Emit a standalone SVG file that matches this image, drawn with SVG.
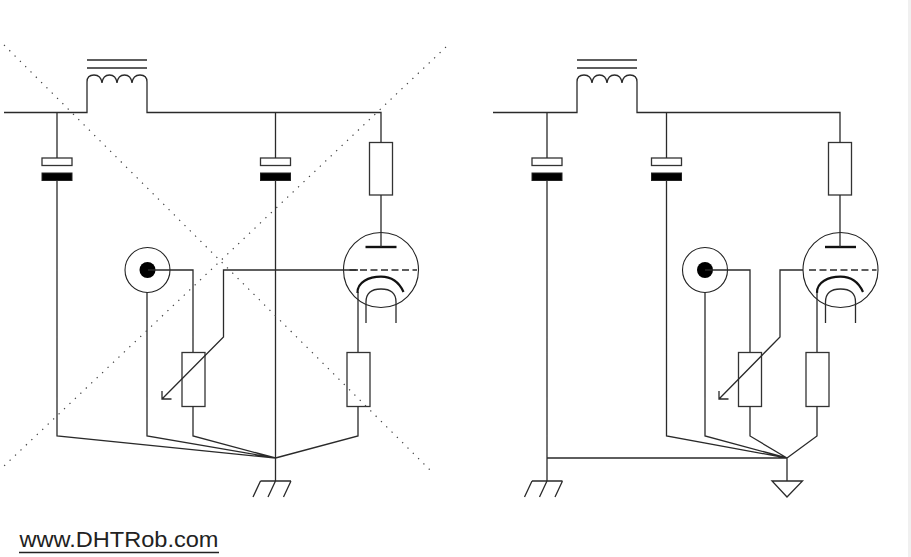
<svg xmlns="http://www.w3.org/2000/svg" width="911" height="557" viewBox="0 0 911 557">
<style>
.w{fill:none;stroke:#2a2a2a;stroke-width:1.3}
.b{fill:#fff;stroke:#333;stroke-width:1.3}
.k{fill:#000;stroke:#222;stroke-width:1}
.t{fill:none;stroke:#222;stroke-width:1.1}
.h{fill:none;stroke:#111;stroke-width:2.2}
.p{fill:none;stroke:#111;stroke-width:2.4}
.x{fill:none;stroke:#444;stroke-width:1.2;stroke-dasharray:1.3 6.2}
.g{stroke-dasharray:7 3.5}
text{font-family:"Liberation Sans",Arial,sans-serif;font-size:22px;fill:#222}
</style>
<defs>
<g id="choke"><path class="w" d="M87 68H147M87 60H147"/><path class="w" d="M87 82Q87 75 94 75Q101 75 102 83Q103 75 109.500 75Q116 75 117 83Q118 75 124.500 75Q131 75 132 83Q133 75 140 75Q147 75 147 82"/></g>
<g id="cap"><rect class="b" x="-15" y="0" width="30" height="7.500"/><rect class="k" x="-15" y="15" width="30" height="7.500"/></g>
<rect id="res" class="b" x="-11.500" y="0" width="23" height="54"/>
<g id="coax"><circle class="t" r="22.500"/><circle r="8" fill="#000"/></g>
<g id="tube"><circle class="t" r="37.500"/><path class="p" d="M-15.500-23H15.500"/><path class="h" d="M-23.500 23C-24 12-12 6.700 0 6.700C10 6.700 18 12 22.500 22"/><path class="w" d="M-15 53V32Q-15 19 0 19Q15 19 15 32V53"/><path class="w g" d="M-31.500 0H36"/></g>
<path id="gnd" class="w" d="M-15 0H15.500M-15 0L-22.500 16M0 0L-7.500 16M15.500 0L8 16"/>
</defs>
<rect id="edge" x="908" y="0" width="3" height="557" fill="#f0f0f0"/>
<g id="choke-left"><use href="#choke"/></g>
<g id="choke-right"><use href="#choke" x="490"/></g>
<g id="cap-left-1"><use href="#cap" x="57" y="158"/></g>
<g id="cap-left-2"><use href="#cap" x="275.500" y="158"/></g>
<g id="cap-right-1"><use href="#cap" x="547" y="158"/></g>
<g id="cap-right-2"><use href="#cap" x="666.500" y="158"/></g>
<g id="res-left-plate"><rect class="b" x="369.500" y="142.500" width="23" height="52.500"/></g>
<g id="res-right-plate"><rect class="b" x="828.500" y="142.500" width="23" height="52.500"/></g>
<g id="res-left-pot"><use href="#res" x="193.500" y="352.500"/></g>
<g id="res-left-cathode"><use href="#res" x="358.500" y="352.500"/></g>
<g id="res-right-pot"><use href="#res" x="750" y="352.500"/></g>
<g id="res-right-cathode"><use href="#res" x="817.500" y="352.500"/></g>
<g id="coax-left"><use href="#coax" x="147.500" y="270"/></g>
<g id="coax-right"><use href="#coax" x="705" y="270"/></g>
<g id="tube-left"><use href="#tube" x="381" y="270"/></g>
<g id="tube-right"><use href="#tube" x="840.500" y="270"/></g>
<g id="ground-left"><use href="#gnd" x="275.500" y="481"/></g>
<g id="ground-right"><use href="#gnd" x="547" y="481"/></g>
<g id="signal-ground"><path class="w" d="M772 481H802.500L787 497Z"/></g>
<g id="connectors">
<path class="w" d="M4 112.500H87V82M147 82V112.500H381V142.500M57 112.500V158M57 180V436L275.500 458M275.500 112.500V158M275.500 180V481M381 195V247M358 292V352M358 406V436L275.500 458M147 292V436L275.500 458M148 270H193V352M193 406V436L275.500 458M358 270H223.500V337L162 399M162 391V399H171.500"/>
<path class="w" d="M493 112.500H577V82M637 82V112.500H840V142.500M547 112.500V158M547 180V481M666.500 112.500V158M666.500 180V436L787 458M840 195V247M817 292V352M817 406V436L787 458M705 292V436L787 458M705 270H750V352M750 406V436L787 458M803 270H780V337L719 399M719 391V399H728.500M547 458H787V481"/>
<path class="x" d="M4 45L430 470M446 47L4 466"/>
</g>
<g id="credit"><text x="19.500" y="546.500" textLength="199" lengthAdjust="spacingAndGlyphs">www.DHTRob.com</text><path d="M19 552.500H219" stroke="#222" stroke-width="1.3"/></g>
</svg>
